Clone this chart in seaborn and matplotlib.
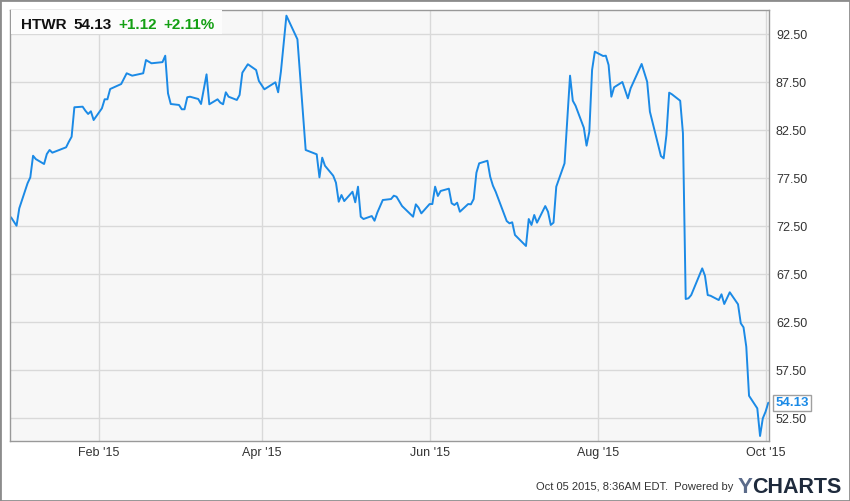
import pandas as pd
import matplotlib.pyplot as plt
from matplotlib.patches import Rectangle
import seaborn as sns

# daily closes (turning points)
dates = [
    "2014-12-31", "2015-01-02", "2015-01-03", "2015-01-05", "2015-01-06", "2015-01-07",
    "2015-01-08", "2015-01-09", "2015-01-12", "2015-01-13", "2015-01-14", "2015-01-15",
    "2015-01-20", "2015-01-21", "2015-01-22", "2015-01-23", "2015-01-26", "2015-01-27",
    "2015-01-28", "2015-01-29", "2015-01-30", "2015-02-02", "2015-02-03", "2015-02-04",
    "2015-02-05", "2015-02-09", "2015-02-11", "2015-02-13", "2015-02-17", "2015-02-18",
    "2015-02-20", "2015-02-24", "2015-02-25", "2015-02-26", "2015-02-27", "2015-03-02",
    "2015-03-03", "2015-03-04", "2015-03-05", "2015-03-06", "2015-03-09", "2015-03-10",
    "2015-03-12", "2015-03-13", "2015-03-16", "2015-03-17", "2015-03-18", "2015-03-19",
    "2015-03-20", "2015-03-23", "2015-03-24", "2015-03-25", "2015-03-27", "2015-03-30",
    "2015-03-31", "2015-04-02", "2015-04-06", "2015-04-07", "2015-04-08", "2015-04-10",
    "2015-04-14", "2015-04-17", "2015-04-21", "2015-04-22", "2015-04-23", "2015-04-24",
    "2015-04-27", "2015-04-28", "2015-04-29", "2015-04-30", "2015-05-01", "2015-05-04",
    "2015-05-05", "2015-05-06", "2015-05-07", "2015-05-08", "2015-05-11", "2015-05-12",
    "2015-05-13", "2015-05-15", "2015-05-18", "2015-05-19", "2015-05-20", "2015-05-22",
    "2015-05-26", "2015-05-27", "2015-05-28", "2015-05-29", "2015-06-01", "2015-06-02",
    "2015-06-03", "2015-06-04", "2015-06-05", "2015-06-08", "2015-06-09", "2015-06-10",
    "2015-06-11", "2015-06-12", "2015-06-15", "2015-06-16", "2015-06-17", "2015-06-18",
    "2015-06-19", "2015-06-22", "2015-06-23", "2015-06-24", "2015-06-25", "2015-06-29",
    "2015-06-30", "2015-07-01", "2015-07-02", "2015-07-06", "2015-07-07", "2015-07-08",
    "2015-07-09", "2015-07-10", "2015-07-13", "2015-07-14", "2015-07-15", "2015-07-16",
    "2015-07-17", "2015-07-20", "2015-07-22", "2015-07-23", "2015-07-24", "2015-07-27",
    "2015-07-28", "2015-07-29", "2015-07-30", "2015-07-31", "2015-08-03", "2015-08-04",
    "2015-08-05", "2015-08-06", "2015-08-07", "2015-08-10", "2015-08-12", "2015-08-13",
    "2015-08-17", "2015-08-19", "2015-08-20", "2015-08-24", "2015-08-25", "2015-08-26",
    "2015-08-27", "2015-08-28", "2015-08-31", "2015-09-01", "2015-09-02", "2015-09-03",
    "2015-09-04", "2015-09-08", "2015-09-09", "2015-09-10", "2015-09-11", "2015-09-14",
    "2015-09-15", "2015-09-16", "2015-09-18", "2015-09-21", "2015-09-22", "2015-09-23",
    "2015-09-24", "2015-09-25", "2015-09-28", "2015-09-29", "2015-09-30", "2015-10-01",
    "2015-10-02",
]
prices = [
    73.44, 72.56, 74.38, 76.10, 76.98, 77.60,
    79.85, 79.50, 78.99, 80.03, 80.45, 80.17,
    80.73, 81.31, 81.83, 84.90, 84.96, 84.54,
    84.20, 84.48, 83.57, 84.79, 85.73, 85.73,
    86.80, 87.32, 88.44, 88.19, 88.44, 89.82,
    89.48, 89.60, 90.27, 86.35, 85.24, 85.14,
    84.69, 84.69, 85.94, 86.00, 85.76, 85.24,
    88.33, 85.21, 85.73, 85.38, 85.21, 86.46,
    86.00, 85.66, 86.18, 88.50, 89.38, 88.78,
    87.64, 86.77, 87.50, 86.46, 88.60, 94.44,
    91.98, 80.45, 80.00, 77.60, 79.65, 78.81,
    77.77, 77.04, 75.06, 75.76, 75.13, 76.10,
    75.00, 76.63, 73.50, 73.26, 73.57, 73.08,
    73.92, 75.24, 75.34, 75.69, 75.58, 74.61,
    73.50, 74.79, 74.44, 73.85, 74.82, 74.82,
    76.63, 75.66, 76.18, 76.42, 74.90, 74.72,
    74.96, 74.02, 74.82, 74.79, 75.34, 78.08,
    79.06, 79.33, 77.67, 76.73, 76.10, 73.05,
    72.81, 72.92, 71.60, 70.45, 73.26, 72.64,
    73.68, 72.88, 74.61, 74.02, 72.64, 72.88,
    76.63, 79.06, 88.19, 85.58, 85.06, 82.77,
    80.90, 82.35, 88.78, 90.69, 90.24, 90.27,
    89.30, 86.00, 86.98, 87.53, 85.83, 86.87,
    89.41, 87.56, 84.44, 79.82, 79.58, 82.01,
    86.42, 86.25, 85.58, 82.19, 64.93, 65.00,
    65.34, 68.12, 67.35, 65.34, 65.27, 64.82,
    65.42, 64.41, 65.63, 64.38, 62.40, 61.98,
    59.96, 54.85, 53.54, 50.66, 52.50, 53.19,
    54.13,
]

ticker = "HTWR"
last_price = "54.13"
change = "+1.12"
change_pct = "+2.11%"
y_ticks = [52.5, 57.5, 62.5, 67.5, 72.5, 77.5, 82.5, 87.5, 92.5]
month_ticks = ["2015-02-01", "2015-04-01", "2015-06-01", "2015-08-01", "2015-10-01"]
month_labels = ["Feb '15", "Apr '15", "Jun '15", "Aug '15", "Oct '15"]
footer = "Oct 05 2015, 8:36AM EDT.  Powered by"

df = pd.DataFrame({"date": pd.to_datetime(dates), "price": prices})

sns.set_style("white")
plt.rcParams['font.family'] = ['Liberation Sans', 'DejaVu Sans']

W, H = 850, 501
fig = plt.figure(figsize=(W / 100, H / 100), dpi=100)
ax = fig.add_axes([10 / W, 1 - 441 / H, 759 / W, 431 / H])
ax.set_facecolor("#f7f7f7")

sns.lineplot(data=df, x="date", y="price", color="#1b8ae6", linewidth=1.4, ax=ax)

ax.set_xlim(pd.Timestamp("2014-12-30 15:00"), pd.Timestamp("2015-10-02 06:00"))
ax.set_ylim(50.14, 95.03)
ax.yaxis.tick_right()
ax.set_yticks(y_ticks)
ax.set_yticklabels([f"{v:.2f}" for v in y_ticks])
ax.set_xticks(pd.to_datetime(month_ticks))
ax.set_xticklabels(month_labels)
ax.tick_params(axis="y", length=0, labelsize=9, colors="#333333", pad=5)
ax.tick_params(axis="x", length=0, labelsize=9, colors="#333333", pad=4)
ax.grid(True, color="#d9d9d9", linewidth=1)
ax.set_xlabel("")
ax.set_ylabel("")
for s in ax.spines.values():
    s.set_color("#999999")
    s.set_linewidth(1)

# last value tag
ax.annotate(last_price, xy=(df["date"].iloc[-1], prices[-1]), xytext=(5, 0),
            textcoords="offset points", va="center", ha="left",
            fontsize=9.5, fontweight="bold", color="#1b8ae6", annotation_clip=False,
            bbox=dict(boxstyle="square,pad=0.15", fc="white", ec="#a0a0a0", lw=1))

# header box
fig.add_artist(Rectangle((11 / W, 1 - 34 / H), 211 / W, 24 / H, transform=fig.transFigure,
                         fc="#fcfcfc", ec="none", zorder=5))
head = [(21, ticker, "#111111"), (73, last_price, "#111111"),
        (118, change, "#14a014"), (163, change_pct, "#14a014")]
for x, txt, col in head:
    fig.text(x / W, 1 - 29 / H, txt, fontsize=11, fontweight="bold", color=col,
             va="baseline", ha="left", zorder=6)

# footer
fig.text(733 / W, 1 - 487 / H, footer, fontsize=8, color="#333333", ha="right", va="center")
fig.text(738 / W, 1 - 493 / H, "Y", fontsize=16, fontweight="bold", color="#5b6b8a",
         ha="left", va="baseline")
fig.text(752 / W, 1 - 493 / H, "CHARTS", fontsize=15.5, fontweight="bold", color="#1e2a3c",
         ha="left", va="baseline")

fig.add_artist(Rectangle((0, 0), 1, 1, transform=fig.transFigure, fill=False,
                         ec="#8c8c8c", lw=2))

fig.savefig("out.png", dpi=100)
